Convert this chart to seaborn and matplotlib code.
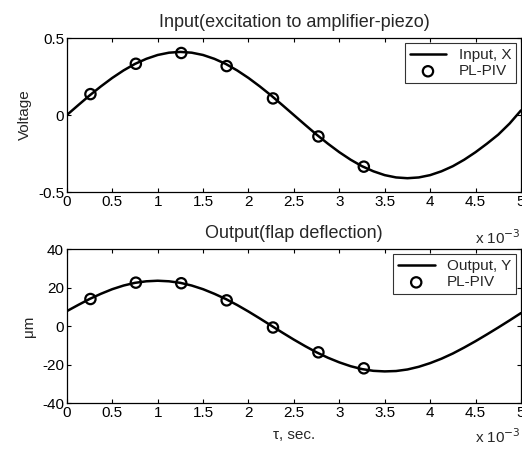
import matplotlib
matplotlib.use("Agg")
import matplotlib.pyplot as plt
import seaborn as sns
import pandas as pd

# time axis in ms (plotted with a "x 10^-3" multiplier like the original)
t_ms = [0.0, 0.125, 0.25, 0.375, 0.5, 0.625, 0.75, 0.875, 1.0, 1.125,
        1.25, 1.375, 1.5, 1.625, 1.75, 1.875, 2.0, 2.125, 2.25, 2.375,
        2.5, 2.625, 2.75, 2.875, 3.0, 3.125, 3.25, 3.375, 3.5, 3.625,
        3.75, 3.875, 4.0, 4.125, 4.25, 4.375, 4.5, 4.625, 4.75, 4.875, 5.0]

# input voltage (curve)
input_x = [0.0, 0.064, 0.127, 0.186, 0.241, 0.29, 0.332, 0.365, 0.39, 0.405,
           0.41, 0.405, 0.39, 0.365, 0.332, 0.29, 0.241, 0.186, 0.127, 0.064,
           0.0, -0.064, -0.127, -0.186, -0.241, -0.29, -0.332, -0.365, -0.39, -0.405,
           -0.41, -0.405, -0.39, -0.365, -0.332, -0.29, -0.241, -0.186, -0.127, -0.055, 0.03]

# output deflection in um (curve)
output_y = [7.8, 11.0, 14.1, 16.8, 19.2, 21.1, 22.5, 23.3, 23.6, 23.3,
            22.5, 21.1, 19.2, 16.8, 14.1, 11.0, 7.6, 4.0, 0.3, -3.4,
            -7.0, -10.4, -13.6, -16.4, -18.8, -20.8, -22.3, -23.2, -23.5, -23.3,
            -22.5, -21.1, -19.2, -16.9, -14.2, -11.1, -7.8, -4.3, -0.7, 3.0, 6.8]

# PL-PIV measurements
piv_t_ms = [0.26, 0.76, 1.26, 1.76, 2.27, 2.77, 3.27]
piv_x = [0.136, 0.333, 0.403, 0.318, 0.108, -0.139, -0.335]
piv_y = [14.1, 22.6, 22.3, 13.4, -0.7, -13.6, -21.9]

sns.set_theme(style="ticks")
plt.rcParams['font.family'] = ['Liberation Sans', 'DejaVu Sans']
plt.rcParams['xtick.direction'] = 'in'
plt.rcParams['ytick.direction'] = 'in'

fig = plt.figure(figsize=(5.22, 4.53), dpi=100)
ax1 = fig.add_axes([0.128, 0.576, 0.870, 0.340])
ax2 = fig.add_axes([0.128, 0.110, 0.870, 0.340])

curves = pd.DataFrame({'t': t_ms, 'x': input_x, 'y': output_y})
piv = pd.DataFrame({'t': piv_t_ms, 'x': piv_x, 'y': piv_y})


def draw_panel(ax, col, line_label, title, ylabel, ylim, yticks, yticklabels):
    sns.lineplot(data=curves, x='t', y=col, ax=ax, color='black', linewidth=1.8,
                 label=line_label)
    sns.scatterplot(data=piv, x='t', y=col, ax=ax, marker='o', s=55,
                    facecolor='none', edgecolor='black', linewidth=1.6,
                    label='PL-PIV', zorder=3)
    ax.set_xlim(0, 5)
    ax.set_ylim(*ylim)
    ax.set_xticks([0, 0.5, 1, 1.5, 2, 2.5, 3, 3.5, 4, 4.5, 5])
    ax.set_xticklabels(['0', '0.5', '1', '1.5', '2', '2.5', '3', '3.5', '4', '4.5', '5'])
    ax.set_yticks(yticks)
    ax.set_yticklabels(yticklabels)
    ax.tick_params(labelsize=11, length=3, width=0.8, top=True, right=True, pad=2,
                   colors='black')
    for s in ax.spines.values():
        s.set_visible(True)
        s.set_color('black')
        s.set_linewidth(0.9)
    ax.set_title(title, fontsize=13, pad=8)
    ax.set_ylabel(ylabel, fontsize=11, labelpad=4)
    ax.set_xlabel('')
    leg = ax.legend(loc='upper right', fontsize=11, frameon=True, fancybox=False,
                    borderpad=0.3, handlelength=2.4, labelspacing=0.15,
                    borderaxespad=0.35)
    leg.get_frame().set_edgecolor('black')
    leg.get_frame().set_linewidth(0.8)


draw_panel(ax1, 'x', 'Input, X', 'Input(excitation to amplifier-piezo)', 'Voltage',
           (-0.5, 0.5), [-0.5, 0, 0.5], ['-0.5', '0', '0.5'])
draw_panel(ax2, 'y', 'Output, Y', 'Output(flap deflection)', '\u03bcm',
           (-40, 40), [-40, -20, 0, 20, 40], ['-40', '-20', '0', '20', '40'])

ax2.set_xlabel('\u03c4, sec.', fontsize=11, labelpad=6)

fig.text(0.998, 0.475, r'x 10$^{-3}$', ha='right', va='center', fontsize=11)
fig.text(0.998, 0.035, r'x 10$^{-3}$', ha='right', va='center', fontsize=11)

fig.savefig('out.png', dpi=100)
